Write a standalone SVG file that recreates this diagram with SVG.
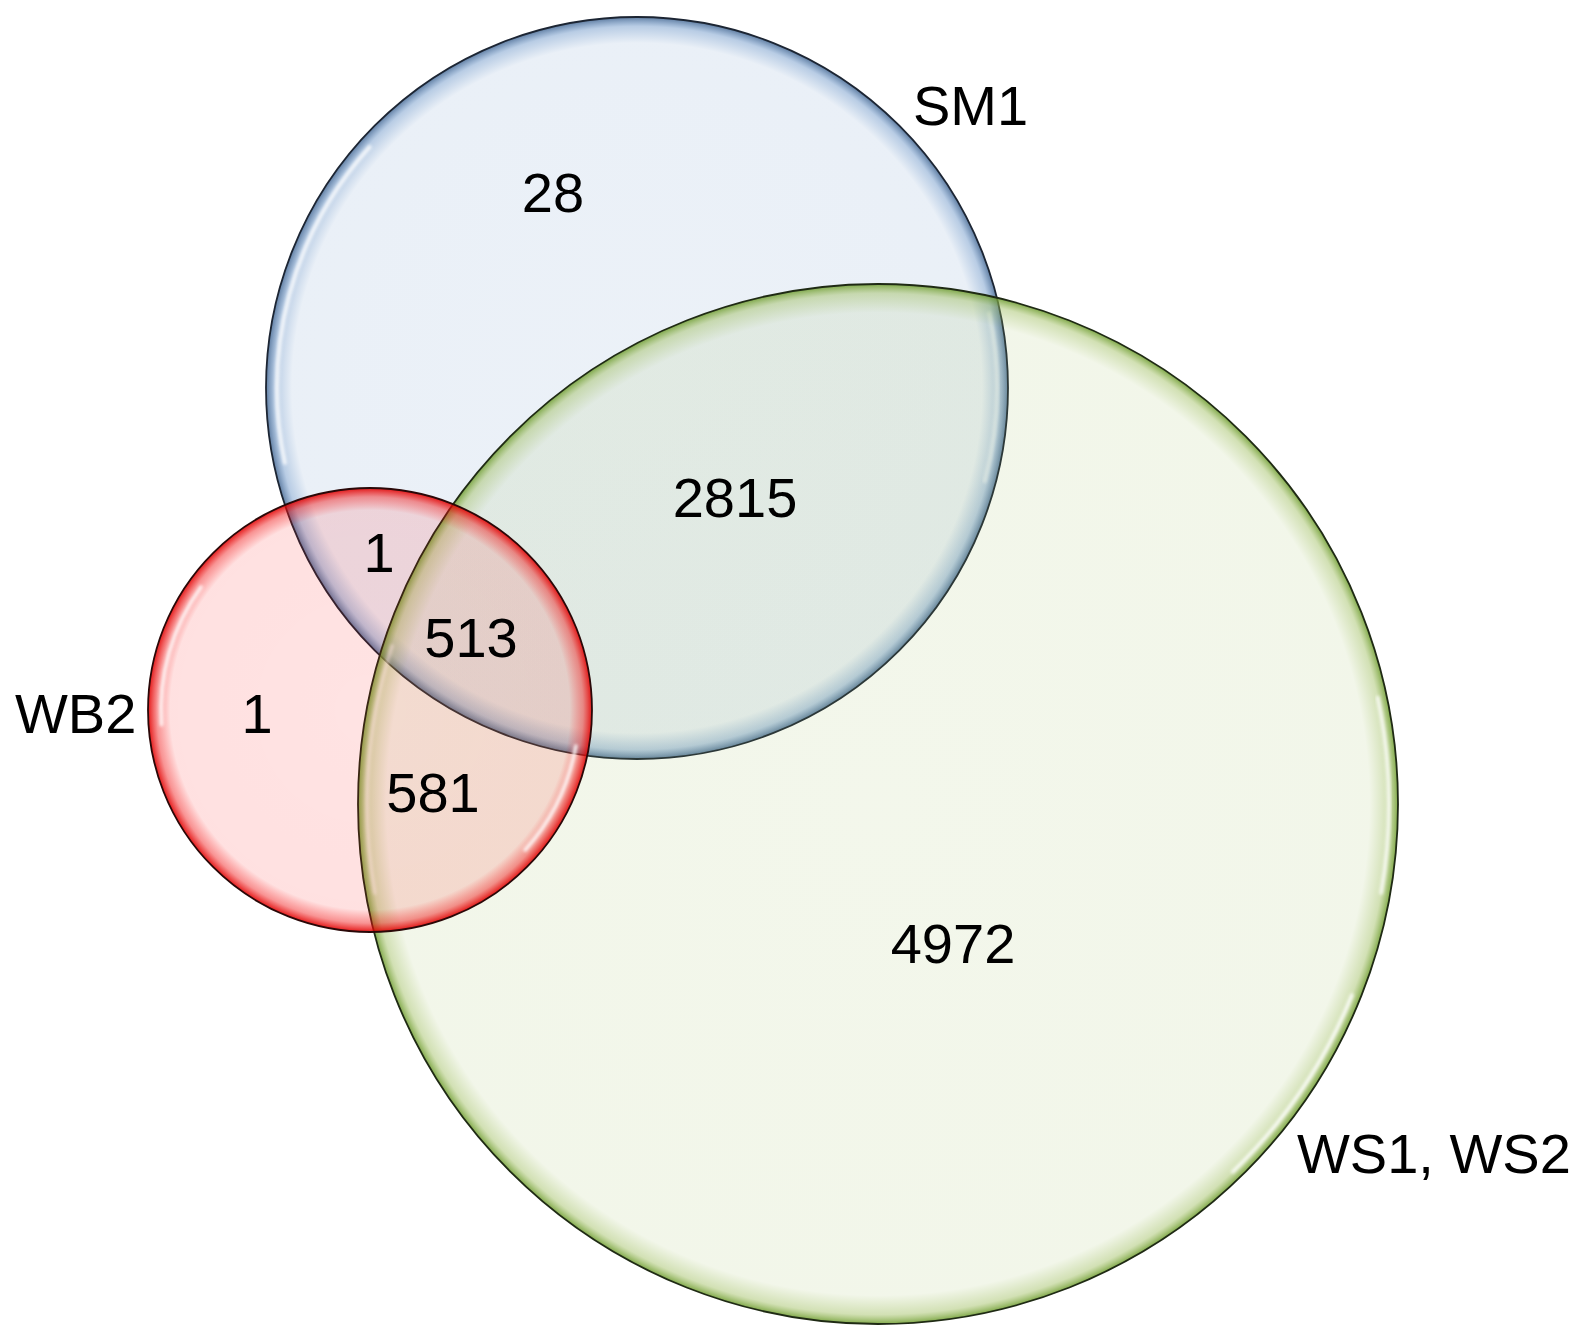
<svg xmlns="http://www.w3.org/2000/svg" width="1585" height="1340" viewBox="0 0 1585 1340">
  <style>
    .lbl { font-family: "Liberation Sans", Arial, sans-serif; font-size: 56px; fill: #000; }
    .num { text-anchor: middle; }
    .edge { stroke-width: 1.8; }
    .hl { fill: none; stroke: #fff; stroke-width: 4; stroke-linecap: round; filter: url(#soft); }
  </style>
  <defs>
    <filter id="soft" x="-20%" y="-20%" width="140%" height="140%">
      <feGaussianBlur stdDeviation="1.5"/>
    </filter>
    <radialGradient id="gBlue">
      <stop offset="0" stop-color="#4f81bd" stop-opacity="0.11"/>
      <stop offset="0.93" stop-color="#4f81bd" stop-opacity="0.12"/>
      <stop offset="0.975" stop-color="#4f81bd" stop-opacity="0.4"/>
      <stop offset="1" stop-color="#385d8a" stop-opacity="0.8"/>
    </radialGradient>
    <radialGradient id="gGreen">
      <stop offset="0" stop-color="#9bbb59" stop-opacity="0.12"/>
      <stop offset="0.945" stop-color="#9bbb59" stop-opacity="0.13"/>
      <stop offset="0.982" stop-color="#9bbb59" stop-opacity="0.45"/>
      <stop offset="1" stop-color="#6a9a2a" stop-opacity="0.85"/>
    </radialGradient>
    <radialGradient id="gRed">
      <stop offset="0" stop-color="#ff0000" stop-opacity="0.11"/>
      <stop offset="0.9" stop-color="#ff0000" stop-opacity="0.12"/>
      <stop offset="0.96" stop-color="#f01010" stop-opacity="0.45"/>
      <stop offset="1" stop-color="#e00000" stop-opacity="0.9"/>
    </radialGradient>
  </defs>

  <g id="set-SM1">
    <circle cx="637" cy="388" r="371" fill="url(#gBlue)" class="edge" stroke="#1c2533"/>
    <path class="hl" d="M 284.9 462.8 A 360 360 0 0 1 369.5 147.1" opacity="0.8"/>
    <path class="hl" d="M 989.1 313.2 A 360 360 0 0 1 984.7 481.2" opacity="0.5"/>
  </g>

  <g id="set-WS">
    <circle cx="878" cy="804" r="520" fill="url(#gGreen)" class="edge" stroke="#1f2a14"/>
    <path class="hl" d="M 1377.8 697.8 A 511 511 0 0 1 1381.2 892.7" opacity="0.75"/>
    <path class="hl" d="M 1351.8 995.4 A 511 511 0 0 1 1233.0 1171.6" opacity="0.8"/>
    <path class="hl" d="M 374.8 892.7 A 511 511 0 0 1 392.0 646.1" opacity="0.45"/>
  </g>

  <g id="set-WB2">
    <circle cx="370" cy="710" r="222" fill="url(#gRed)" class="edge" stroke="#2a0808"/>
    <path class="hl" d="M 161.5 724.6 A 209 209 0 0 1 200.9 587.1" opacity="0.8"/>
    <path class="hl" d="M 575.8 746.3 A 209 209 0 0 1 525.3 849.8" opacity="0.8"/>
  </g>

  <g id="labels">
    <text class="lbl" x="913" y="125" font-size="55">SM1</text>
    <text class="lbl" x="15" y="733">WB2</text>
    <text class="lbl" x="1297" y="1173">WS1, WS2</text>
  </g>

  <g id="counts">
    <text class="lbl num" x="553" y="212">28</text>
    <text class="lbl num" x="735" y="517">2815</text>
    <text class="lbl num" x="379" y="572">1</text>
    <text class="lbl num" x="471" y="657">513</text>
    <text class="lbl num" x="257" y="733">1</text>
    <text class="lbl num" x="433" y="812">581</text>
    <text class="lbl num" x="953" y="963">4972</text>
  </g>
</svg>
